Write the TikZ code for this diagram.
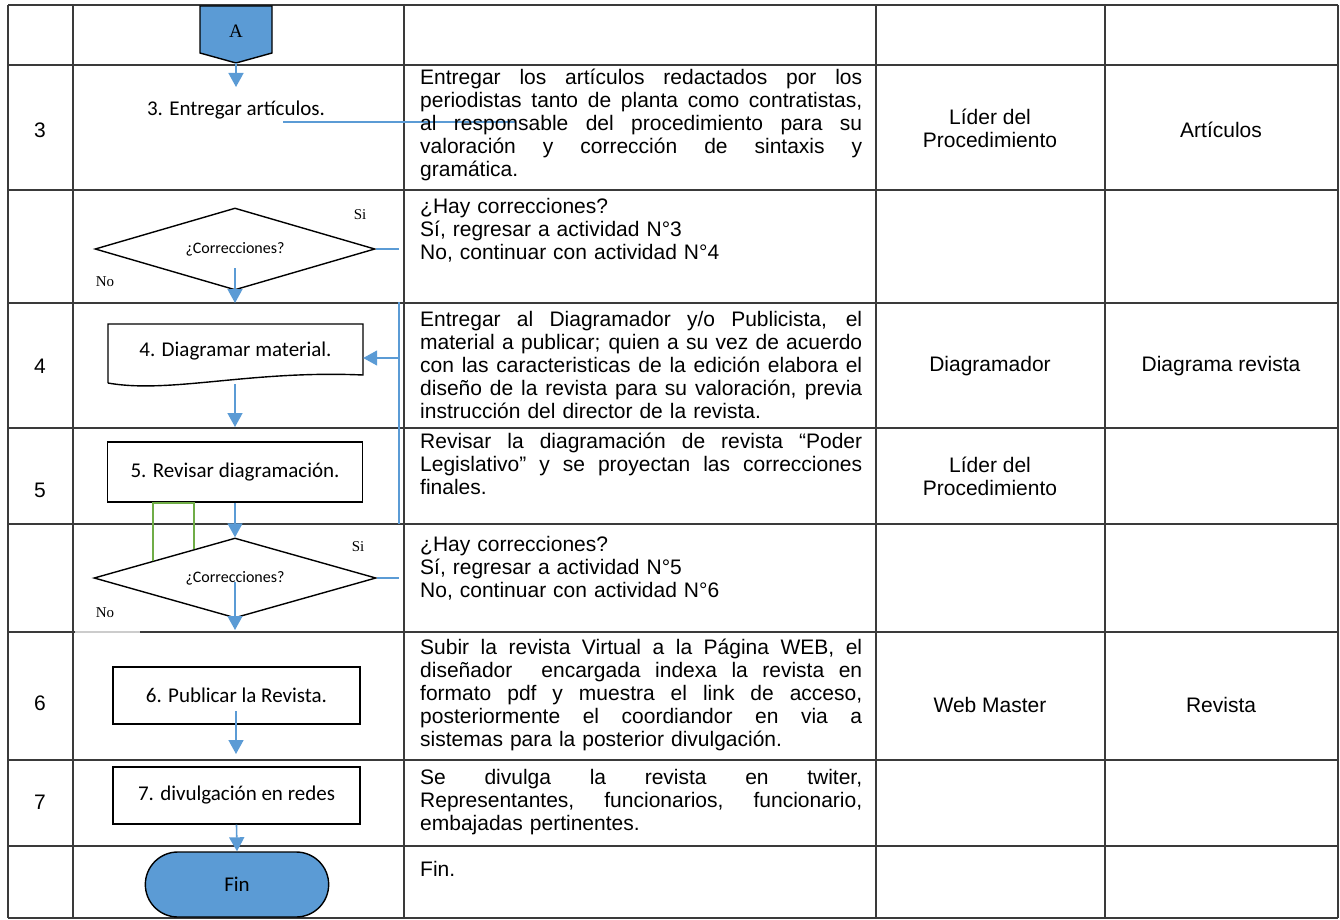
\documentclass[tikz,border=0pt]{standalone}
\usepackage{fontspec}
\setmainfont{Liberation Sans}
\newfontfamily\calibrifont{Carlito}
\newfontfamily\timesfont{Liberation Serif}
\usetikzlibrary{shapes.geometric,shapes.misc,arrows.meta}

\definecolor{flowblue}{HTML}{5B9BD5}
\definecolor{loopgreen}{HTML}{70AD47}
\definecolor{gridgray}{HTML}{3A3A3A}

\newlength{\descw}\setlength{\descw}{442pt}
% one justified line of a description
\newcommand{\jl}[1]{\leavevmode\hbox to\descw{\spaceskip=.28em plus 1fil\relax #1}}

\tikzset{
  grid line/.style={gridgray, line width=1.3pt},
  flow/.style={flowblue, line width=1.6pt},
  flow arrow/.style={flow, -{Triangle[width=15pt,length=14pt]}},
  step font/.style={font=\calibrifont\fontsize{21}{23}\selectfont},
  step box/.style={draw, line width=1.4pt, minimum width=255pt, minimum height=60pt, inner sep=0pt, step font},
  decision/.style={diamond, draw, line width=1.4pt, shape aspect=3.4, inner sep=0pt, font=\calibrifont\fontsize{16}{18}\selectfont},
  yes no/.style={inner sep=0pt, font=\timesfont\fontsize{15}{17}\selectfont},
  desc/.style={anchor=north west, text width=\descw, align=left, inner sep=0pt, font=\fontsize{21}{23}\selectfont},
  cell/.style={align=center, inner sep=0pt, font=\fontsize{21}{23}\selectfont},
}

\begin{document}
\begin{tikzpicture}[x=1pt,y=-1pt]
\useasboundingbox (0,0) rectangle (1340,920);

% table
\foreach \y in {5,65,190,303,428,524,632,760,846,918}
  \draw[grid line] (8,\y) -- (1338,\y);
\foreach \x in {8,73,404,876,1105,1338}
  \draw[grid line] (\x,5) -- (\x,918);
\draw[gray!40, line width=1.3pt] (75,632) -- (140,632);

% off-page connector A
\filldraw[fill=flowblue, draw=black, line width=1.4pt] (200,6) -- (272,6) -- (272,53) -- (236,63) -- (200,53) -- cycle;
\node[inner sep=0pt, font=\timesfont\fontsize{19}{21}\selectfont] (A) at (236,31) {A};

% flow nodes
\node[step font, inner sep=0pt] (s3) at (236,110) {3. Entregar artículos.};
\node[decision, minimum width=280pt, minimum height=82pt] (d1) at (235,249) {¿Correcciones?};
\node[yes no] (si1) at (360,215) {Si};
\node[yes no] (no1) at (105,282) {No};
\node[step font, minimum width=255pt, minimum height=52pt, inner sep=0pt] (s4) at (235.5,351) {4. Diagramar material.};
\node[step box] (s5) at (235,472) {5. Revisar diagramación.};
\node[decision, minimum width=282pt, minimum height=80pt] (d2) at (235,578) {¿Correcciones?};
\node[yes no] (si2) at (358,547) {Si};
\node[yes no] (no2) at (105,613) {No};
\node[step box, minimum width=247pt, minimum height=57pt] (s6) at (236.5,695.5) {6. Publicar la Revista.};
\node[step box, minimum width=247pt, minimum height=57pt] (s7) at (236.5,795.5) {7. divulgación en redes};
\node[rounded rectangle, draw, line width=1.4pt, fill=flowblue, minimum width=190pt, minimum height=65pt, step font] (fin) at (237,884.5) {Fin};

% document outline of step 4
\draw[line width=1.4pt] (108,383) -- (108,324) -- (363,324) -- (363,375) .. controls (250,370) and (170,394) .. (108,383);

% connectors
\coordinate (Atip) at (236,63);
\coordinate (s3in) at (236,87);
\coordinate (s3a) at (283,122);
\coordinate (s3b) at (515,122);
\coordinate (d1r) at (399,249);
\coordinate (d1o) at (235,268);
\coordinate (d1t) at (235,303);
\coordinate (backtop) at (399,302);
\coordinate (backbot) at (399,524);
\coordinate (back4) at (399,358);
\coordinate (s4o) at (235,384);
\coordinate (s5in) at (235,427);
\coordinate (d2r) at (399,578);
\coordinate (d2o) at (235,582);
\coordinate (d2t) at (235,630);
\coordinate (s6o) at (236,711);
\coordinate (s6t) at (236,754);

\draw[flow arrow] (Atip) -- (s3in);
\draw[flow, line width=1.1pt] (s3a) -- (s3b);
\draw[flow] (d1.east) -- (d1r);
\draw[flow arrow] (d1o) -- (d1t);
\draw[flow] (backtop) -- (backbot);
\draw[flow arrow] (back4) -- (s4.east |- back4);
\draw[flow arrow] (s4o) -- (s5in);
\draw[loopgreen, line width=1.6pt] (153,561) |- (194,503) -- (194,549);
\draw[flow arrow] (s5.south) -- (d2.north);
\draw[flow] (d2.east) -- (d2r);
\draw[flow arrow] (d2o) -- (d2t);
\draw[flow arrow] (s6o) -- (s6t);
\draw[flow arrow] (s7.south) -- (fin.north);

% activity numbers
\foreach \n/\y in {3/130,4/366,5/490,6/703,7/802}
  \node[cell] (num\n) at (40,\y) {\n};

% descriptions
\node[desc] (t3) at (420,68) {\strut\jl{Entregar los artículos redactados por los}\\
  \jl{periodistas tanto de planta como contratistas,}\\
  \jl{al responsable del procedimiento para su}\\
  \jl{valoración y corrección de sintaxis y}\\
  gramática.};
\node[desc] (td1) at (420,197) {\strut¿Hay correcciones?\\
  Sí, regresar a actividad N°3\\
  No, continuar con actividad N°4};
\node[desc] (t4) at (420,310) {\strut\jl{Entregar al Diagramador y/o Publicista, el}\\
  \jl{material a publicar; quien a su vez de acuerdo}\\
  \jl{con las caracteristicas de la edición elabora el}\\
  \jl{diseño de la revista para su valoración, previa}\\
  instrucción del director de la revista.};
\node[desc] (t5) at (420,432) {\strut\jl{Revisar la diagramación de revista “Poder}\\
  \jl{Legislativo” y se proyectan las correcciones}\\
  finales.};
\node[desc] (td2) at (420,535) {\strut¿Hay correcciones?\\
  Sí, regresar a actividad N°5\\
  No, continuar con actividad N°6};
\node[desc] (t6) at (420,638) {\strut\jl{Subir la revista Virtual a la Página WEB, el}\\
  \jl{diseñador\ \ encargada indexa la revista en}\\
  \jl{formato pdf y muestra el link de acceso,}\\
  \jl{posteriormente el coordiandor en via a}\\
  sistemas para la posterior divulgación.};
\node[desc] (t7) at (420,768) {\strut\jl{Se divulga la revista en twiter,}\\
  \jl{Representantes, funcionarios, funcionario,}\\
  embajadas pertinentes.};
\node[desc] (tfin) at (420,860) {\strut Fin.};

% responsible and output
\node[cell] (r3) at (990,128) {Líder del\\Procedimiento};
\node[cell] (o3) at (1221,130) {Artículos};
\node[cell] (r4) at (990,366) {Diagramador};
\node[cell] (o4) at (1221,366) {Diagrama revista};
\node[cell] (r5) at (990,476) {Líder del\\Procedimiento};
\node[cell] (r6) at (990,705) {Web Master};
\node[cell] (o6) at (1221,705) {Revista};
\end{tikzpicture}
\end{document}
